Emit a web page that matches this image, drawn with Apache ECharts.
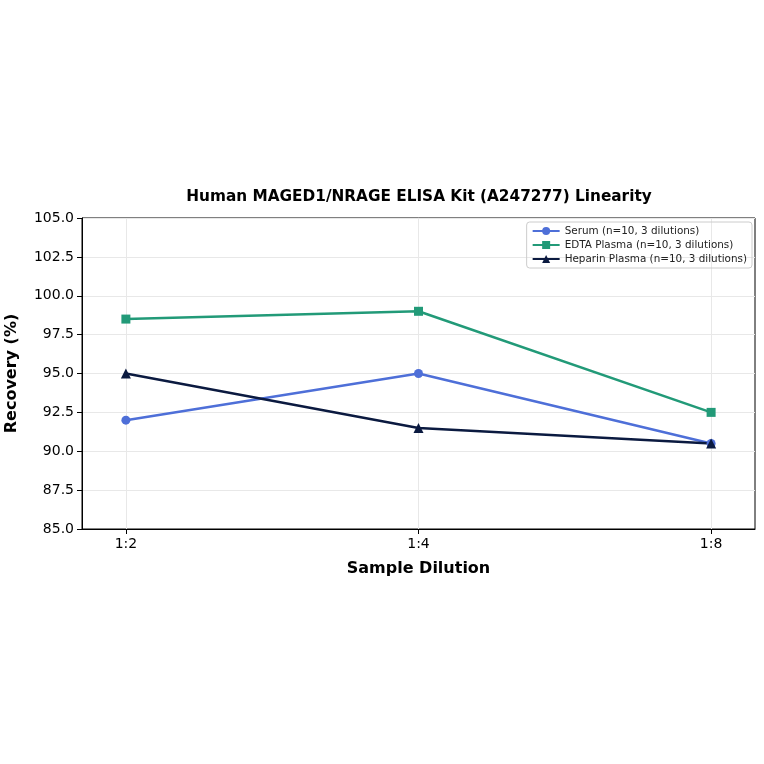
<!DOCTYPE html>
<html>
<head>
<meta charset="utf-8">
<script src="https://cdn.jsdelivr.net/npm/echarts@6/dist/echarts.min.js"></script>
<style>
  html, body { margin: 0; padding: 0; background: #fff; }
  #chart { width: 764px; height: 764px; }
</style>
</head>
<body>
<div id="chart"></div>
<script>
const dilutions = ['1:2', '1:4', '1:8']
const serum = [92.0, 95.0, 90.5]
const edta = [98.5, 99.0, 92.5]
const heparin = [95.0, 91.5, 90.5]
const yTicks = [85, 87.5, 90, 92.5, 95, 97.5, 100, 102.5, 105]

const font = 'DejaVu Sans'
const serumColor = '#4e6fd8'
const edtaColor = '#229a78'
const heparinColor = '#0b1a40'

function pts(values) {
  return values.map((v, i) => [i, v])
}

function line(name, values, color, symbol, size) {
  return {
    name: name,
    type: 'line',
    data: pts(values),
    symbol: symbol,
    symbolSize: size,
    itemStyle: {color: color},
    lineStyle: {color: color, width: 2.5},
    animation: false
  }
}

const chart = echarts.init(document.getElementById('chart'))
chart.setOption({
  backgroundColor: '#fff',
  title: {
    text: 'Human MAGED1/NRAGE ELISA Kit (A247277) Linearity',
    left: 414,
    top: 185,
    textAlign: 'center',
    textStyle: {fontFamily: font, fontSize: 15.3, fontWeight: 'bold', color: '#000'}
  },
  legend: {
    orient: 'vertical',
    right: 12,
    top: 222,
    itemGap: 4,
    itemWidth: 27,
    itemHeight: 10,
    padding: [4, 5],
    borderColor: '#ccc',
    borderWidth: 1,
    borderRadius: 3,
    textStyle: {fontFamily: font, fontSize: 10.4, color: '#222'},
    data: ['Serum (n=10, 3 dilutions)', 'EDTA Plasma (n=10, 3 dilutions)', 'Heparin Plasma (n=10, 3 dilutions)']
  },
  grid: {left: 82, right: 9, top: 218, bottom: 235, containLabel: false,
    outerBoundsMode: 'none',
    show: true, borderColor: '#000', borderWidth: 1},
  xAxis: {
    type: 'value',
    min: -0.15,
    max: 2.15,
    name: 'Sample Dilution',
    nameLocation: 'middle',
    nameGap: 32,
    nameTextStyle: {fontFamily: font, fontSize: 16, fontWeight: 'bold', color: '#000'},
    axisLine: {show: true, onZero: false, lineStyle: {color: '#000', width: 1}},
    axisTick: {show: true, length: 5, lineStyle: {color: '#000'}, customValues: [0, 1, 2]},
    axisLabel: {
      fontFamily: font, fontSize: 14, color: '#000', margin: 8,
      customValues: [0, 1, 2],
      formatter: v => dilutions[Math.round(v)]
    },
    splitLine: {show: true, lineStyle: {color: '#e8e8e8', width: 1}}
  },
  yAxis: {
    type: 'value',
    min: 85,
    max: 105,
    interval: 2.5,
    name: 'Recovery (%)',
    nameLocation: 'middle',
    nameGap: 62,
    nameTextStyle: {fontFamily: font, fontSize: 16, fontWeight: 'bold', color: '#000'},
    axisLine: {show: true, onZero: false, lineStyle: {color: '#000', width: 1}},
    axisTick: {show: true, length: 5, lineStyle: {color: '#000'}},
    axisLabel: {fontFamily: font, fontSize: 14, color: '#000', margin: 8,
      formatter: v => yTicks.includes(v) ? v.toFixed(1) : ''},
    splitLine: {show: true, lineStyle: {color: '#e8e8e8', width: 1}}
  },
  series: [
    line('Serum (n=10, 3 dilutions)', serum, serumColor, 'circle', 9),
    line('EDTA Plasma (n=10, 3 dilutions)', edta, edtaColor, 'rect', 9),
    line('Heparin Plasma (n=10, 3 dilutions)', heparin, heparinColor, 'triangle', 10)
  ]
})
</script>
</body>
</html>
